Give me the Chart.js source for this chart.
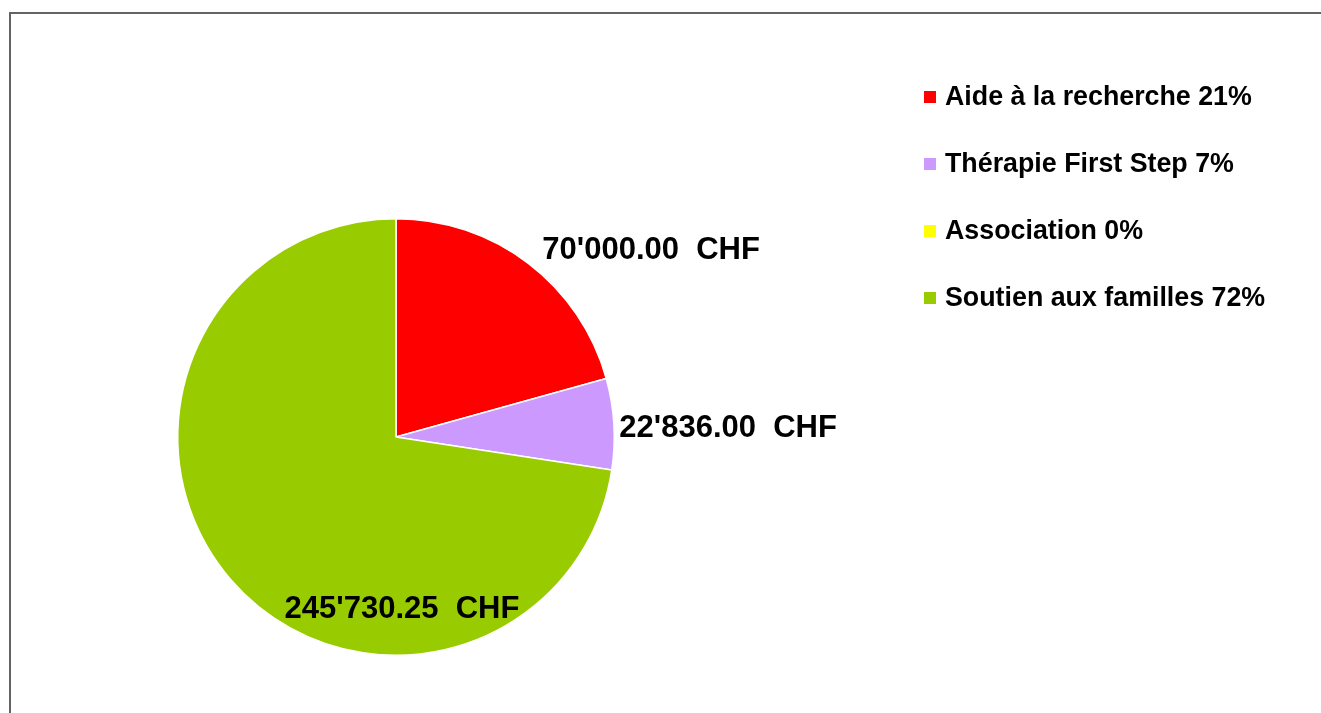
<!DOCTYPE html>
<html>
<head>
<meta charset="utf-8">
<script src="https://cdn.jsdelivr.net/npm/chart.js@4.4.1/dist/chart.umd.min.js"></script>
<style>
  html, body { margin: 0; padding: 0; background: #fff; overflow: hidden; }
  #frame { position: absolute; left: 9px; top: 12px; width: 1400px; height: 800px;
           border-left: 2px solid #646464; border-top: 2px solid #646464; }
  #wrap { position: absolute; left: 0; top: 0; width: 1321px; height: 713px; }
</style>
</head>
<body>
<div id="frame"></div>
<div id="wrap"><canvas id="pie" width="1321" height="713"></canvas></div>
<script>
// categories and values (CHF)
const categories = ["Aide à la recherche", "Thérapie First Step", "Association", "Soutien aux familles"];
const amounts = [70000, 22836, 0, 245730.25];
const percentLabels = ["21%", "7%", "0%", "72%"];
const sliceColors = ["#ff0000", "#cc99ff", "#ffff00", "#99cc00"];

const FONT = "'Liberation Sans', Arial, sans-serif";

// 70000 -> 70'000.00  CHF
const formatChf = (v) => {
  const parts = v.toFixed(2).split(".");
  const intPart = parts[0].replace(/\B(?=(\d{3})+(?!\d))/g, "'");
  return intPart + "." + parts[1] + "  CHF";
};

// value labels next to / inside the slices
const valueLabels = {
  id: "valueLabels",
  afterDatasetsDraw(chart) {
    const ctx = chart.ctx;
    const meta = chart.getDatasetMeta(0);
    ctx.save();
    ctx.font = "bold 31px " + FONT;
    ctx.fillStyle = "#000";
    ctx.textBaseline = "middle";
    meta.data.forEach((arc, i) => {
      if (!amounts[i]) return;
      const { x, y, startAngle, endAngle, outerRadius } = arc.getProps(
        ["x", "y", "startAngle", "endAngle", "outerRadius"], true);
      const mid = (startAngle + endAngle) / 2;
      const share = (endAngle - startAngle) / (Math.PI * 2);
      const text = formatChf(amounts[i]);
      if (share > 0.5) {
        // big slice: label inside, near the bottom edge
        ctx.textAlign = "center";
        ctx.fillText(text, x + 6, y + outerRadius * 0.79);
      } else {
        const r = outerRadius + 12;
        const ax = x + Math.cos(mid) * r;
        const ay = y + Math.sin(mid) * r;
        ctx.textAlign = Math.cos(mid) >= 0 ? "left" : "right";
        ctx.fillText(text, ax + 28 - 34.6 * Math.cos(mid), ay + 6 + Math.sin(mid) * 11);
      }
    });
    ctx.restore();
  }
};

// legend on the right
const sideLegend = {
  id: "sideLegend",
  afterDraw(chart) {
    const ctx = chart.ctx;
    ctx.save();
    ctx.font = "bold 26.8px " + FONT;
    ctx.textBaseline = "middle";
    ctx.textAlign = "left";
    categories.forEach((name, i) => {
      const cy = 97 + i * 67;
      ctx.fillStyle = sliceColors[i];
      ctx.fillRect(924, cy - 6, 12, 12);
      ctx.fillStyle = "#000";
      ctx.fillText(name + " " + percentLabels[i], 945, cy + 1);
    });
    ctx.restore();
  }
};

new Chart(document.getElementById("pie"), {
  type: "pie",
  data: {
    labels: categories,
    datasets: [{
      data: amounts,
      backgroundColor: sliceColors,
      borderColor: "#ffffff",
      borderWidth: 1.5
    }]
  },
  options: {
    responsive: false,
    animation: false,
    layout: { padding: { left: 177, top: 218, right: 706, bottom: 57 } },
    plugins: {
      legend: { display: false },
      tooltip: { enabled: false }
    }
  },
  plugins: [valueLabels, sideLegend]
});
</script>
</body>
</html>
